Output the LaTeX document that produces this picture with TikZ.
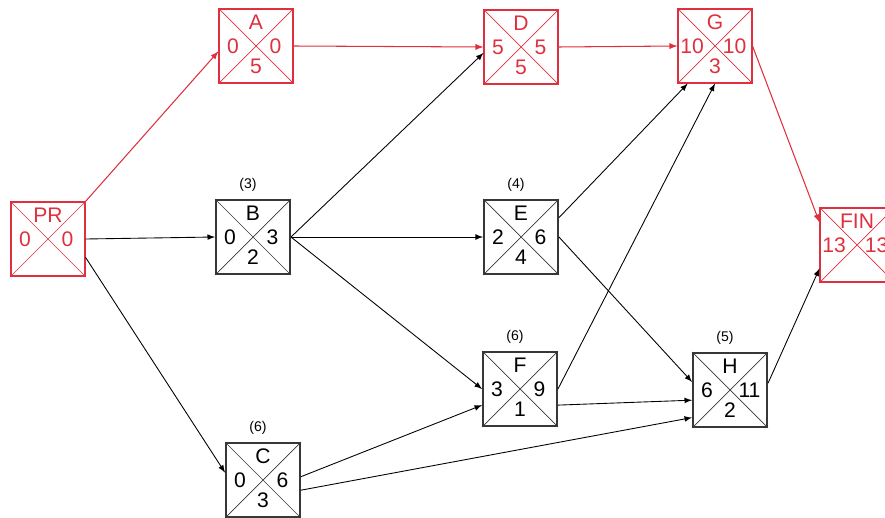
\documentclass[tikz,border=0pt]{standalone}
\usepackage{fontspec}
\setmainfont{Liberation Sans}
\definecolor{critred}{RGB}{222,48,62}
\definecolor{boxgray}{RGB}{55,55,55}

\begin{document}
\begin{tikzpicture}[x=0.02cm, y=-0.02cm, >=latex,
    actbox/.style={rectangle, minimum size=1.48cm, inner sep=0pt},
    critical/.style={draw=critred, text=critred, line width=0.6pt},
    normal/.style={draw=boxgray, text=black, line width=1.1pt},
    diag/.style={line width=0.4pt},
    nr/.style={draw=none, inner sep=0pt, font=\fontsize{12}{14}\selectfont},
    dur/.style={inner sep=0pt, font=\fontsize{8}{10}\selectfont},
    crit/.style={->, critred, line width=0.6pt},
    link/.style={->, black, line width=0.5pt}]
  \useasboundingbox (0,0) rectangle (885,517);
  % activity boxes: name/x/y/left/right/bottom/style
  \foreach \n/\x/\y/\l/\r/\b/\s in {PR/48/239/0/0//critical, A/256/46/0/0/5/critical,
      B/253/237/0/3/2/normal, C/263/480/0/6/3/normal, D/521/47/5/5/5/critical,
      E/521/237/2/6/4/normal, F/520/389/3/9/1/normal, G/715/46/10/10/3/critical,
      H/730/390/6/11/2/normal, FIN/857/245/13/13//critical}{
    \node[actbox, \s] (\n) at (\x,\y) {};
    \draw[\s, diag] (\n.north west) -- (\n.south east) (\n.south west) -- (\n.north east);
    \node[\s, nr] at ([yshift=0.47cm]\n.center) {\n};
    \node[\s, nr] at ([xshift=-0.46cm]\n.center) {\l};
    \node[\s, nr] at ([xshift=0.39cm]\n.center) {\r};
    \node[\s, nr] at ([yshift=-0.41cm]\n.center) {\b};
  }
  % durations
  \foreach \n/\d in {B/3, C/6, E/4, F/6, H/5}
    \node[dur] (d\n) at ([xshift=-0.1cm, yshift=0.28cm]\n.north) {(\d)};
  % critical path
  \draw[crit] (PR.north east) -- (A.188);
  \draw[crit] (A.east) -- (D.west);
  \draw[crit] (D.east) -- (G.west);
  \draw[crit] (G.east) -- (FIN.149);
  % other links
  \draw[link] (PR.east) -- (B.west);
  \draw[link] (PR.-26) -- (C.169);
  \draw[link] (B.east) -- (D.189);
  \draw[link] (B.east) -- (E.west);
  \draw[link] (B.east) -- (F.west);
  \draw[link] (C.5) -- (F.203);
  \draw[link] (C.-15) -- (H.216);
  \draw[link] (E.27) -- (G.234);
  \draw[link] (E.east) -- (H.168);
  \draw[link] (F.east) -- (G.south);
  \draw[link] (F.-23) -- (H.195);
  \draw[link] (H.10) -- (FIN.212);
\end{tikzpicture}
\end{document}
